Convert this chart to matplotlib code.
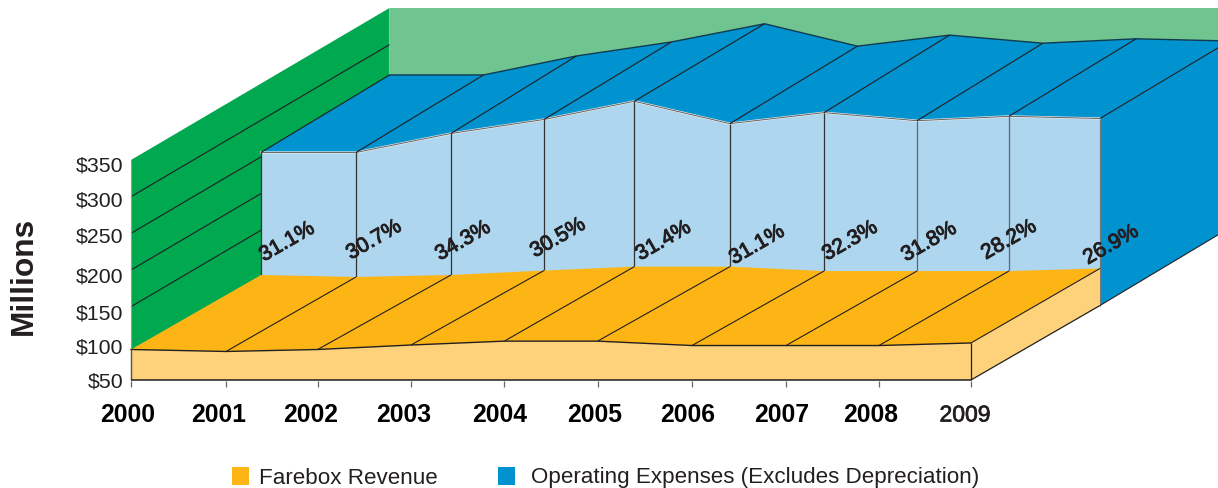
import matplotlib
matplotlib.use("Agg")
import matplotlib.pyplot as plt
import matplotlib.patheffects as pe
from matplotlib.patches import Polygon, Rectangle

plt.rcParams['font.family'] = ['Liberation Sans', 'DejaVu Sans']

years = ['2000', '2001', '2002', '2003', '2004', '2005', '2006', '2007', '2008', '2009']
farebox = [91.6, 88.9, 91.6, 97.7, 103, 103, 97, 97, 97, 100.5]
opex = [258.7, 258.7, 284.6, 303.7, 328.5, 298, 313, 302, 308, 305]
pct_labels = ['31.1%', '30.7%', '34.3%', '30.5%', '31.4%', '31.1%', '32.3%', '31.8%', '28.2%', '26.9%']
y_ticks = [50, 100, 150, 200, 250, 300, 350]

GREEN = '#00a84f'
PALE_GREEN = '#70c48f'
BLUE = '#0093d0'
PALE_BLUE = '#aed6ef'
ORANGE = '#fdb515'
PALE_ORANGE = '#fdd27a'
INK = '#231f20'

# oblique projection: front plane, step per year, px per dollar, depth layers
x0, y0 = 131, 381
xstep = 93.33
ppd = 220 / 300
depth_dx = [0, 130, 258.5]
depth_dy = [0, -74.5, -152]
# the original's columns are not quite evenly spaced
col_dx = [
    [0, 1.7, 0, 0, 0, 0, 1, 1.7, 1.3, 0, 0],
    [0, 1.7, 3.3, 3, 0, 2.3, 3, 2.7, 1.3, -1, 0],
    [0, 0.7, 0.3, 2, 1.7, 1.3, 0, 0, 0, 0, 0],
]


def proj(i, v, d):
    return (x0 + i * xstep + depth_dx[d] + col_dx[d][i], y0 - (v - 50) * ppd + depth_dy[d])


# small nudges for the hand-placed labels of the original
year_dx = [-3, -7, -7, -7, -5, -3, -4, -4, -8, -6]
tick_dy = [1, 4, 6, 6, 3, 3, 5]
pct_dx = [26, 18, 12, 14, 29, 27, 26, 12, 0, 11]
pct_dy = [2, 0, 1, -2, 1, 5, 1, 2, 0, 5]

fig = plt.figure(figsize=(12.18, 4.89), dpi=100)
ax = fig.add_axes([0, 0, 1, 1])
ax.set_xlim(0, 1218)
ax.set_ylim(489, 0)
ax.axis('off')

n = len(years)
last = n - 1


def poly(pts, fc, ec='none', lw=0.0, z=1):
    ax.add_patch(Polygon(pts, closed=True, facecolor=fc, edgecolor=ec, linewidth=lw, zorder=z))


def line(a, b, c=INK, lw=0.8, z=5):
    ax.plot([a[0], b[0]], [a[1], b[1]], color=c, lw=lw, zorder=z, solid_capstyle='butt')


# walls
poly([proj(0, 50, 0), proj(0, 350, 0), proj(0, 350, 2), proj(0, 50, 2)], GREEN, z=1)
poly([proj(0, 350, 2), proj(10, 350, 2), proj(10, 50, 2), proj(0, 50, 2)], PALE_GREEN, z=1)
for v in y_ticks[2:-1]:
    line(proj(0, v, 0), proj(0, v, 2), z=2)
line(proj(0, 50, 0), proj(0, 350, 0), c='#c8963c', lw=0.8, z=2)

# operating expenses ribbon
top_front = [proj(i, opex[i], 1) for i in range(n)]
top_back = [proj(i, opex[i], 2) for i in range(n)]
poly(top_front + top_back[::-1], BLUE, z=3)
poly(top_front + [proj(last, 50, 1), proj(0, 50, 1)], PALE_BLUE, z=3)
poly([top_front[-1], top_back[-1], proj(last, 50, 2), proj(last, 50, 1)], BLUE, z=3)
ax.plot(*zip(*top_back), color='#123a50', lw=1.0, zorder=4)
ax.plot(*zip(*top_front), color='#e8e8e8', lw=1.6, zorder=4)
ax.plot(*zip(*top_front), color='#555555', lw=0.6, zorder=4)
for i in range(n):
    line(top_front[i], top_back[i], z=5)
    if i < last:
        line(top_front[i], proj(i, 50, 1), lw=0.9, c='#333333' if i < 7 else '#666666', z=5)
line(top_front[-1], proj(last, 50, 1), c='#777777', lw=0.8, z=5)
line(proj(last, 50, 1), proj(last, 50, 2), z=5)

# farebox revenue ribbon
fare_front = [proj(i, farebox[i], 0) for i in range(n)]
fare_back = [proj(i, farebox[i], 1) for i in range(n)]
poly(fare_front + fare_back[::-1], ORANGE, z=6)
poly(fare_front + [proj(last, 50, 0), proj(0, 50, 0)], PALE_ORANGE, z=6)
poly([fare_front[-1], fare_back[-1], proj(last, 50, 1), proj(last, 50, 0)], PALE_ORANGE, z=6)
ax.plot(*zip(*fare_front), color=INK, lw=1.0, zorder=7)
for i in range(1, n):
    line(fare_front[i], fare_back[i], z=7)
line(fare_front[0], proj(0, 50, 0), c='#555555', lw=1.0, z=7)
line(proj(0, 50, 0), proj(last, 50, 0), lw=1.1, z=7)
line(fare_front[-1], proj(last, 50, 0), lw=0.9, z=7)
line(proj(last, 50, 0), proj(last, 50, 1), lw=0.9, z=7)

# x axis ticks and labels
for i, lab in enumerate(years):
    x, y = proj(i, 50, 0)
    line((x, y + 1), (x, y + 7), c='#666666', lw=0.9, z=7)
    if lab == '2009':
        ax.text(x + year_dx[i], 416, lab, ha='center', va='center', fontsize=16.5, color=INK, zorder=8,
                path_effects=[pe.withStroke(linewidth=0.5, foreground=INK)])
    else:
        ax.text(x + year_dx[i], 415, lab, ha='center', va='center', fontsize=17.8, fontweight='bold', color='black', zorder=8)

# y axis labels
for v, dy in zip(y_ticks, tick_dy):
    x, y = proj(0, v, 0)
    ax.text(x - 8, y + dy, '$%d' % v, ha='right', va='center', fontsize=15.3, color=INK, zorder=8)
ax.text(24, 276, 'Millions', rotation=90, ha='center', va='center', fontsize=22.8, fontweight='bold', color=INK)

# percentage labels
for i, lab in enumerate(pct_labels):
    x, _ = proj(i, 50, 1)
    ax.text(x + pct_dx[i], 241 + pct_dy[i], lab, rotation=30, ha='center', va='center', rotation_mode='anchor',
            fontsize=15.2, color=INK, zorder=9, path_effects=[pe.withStroke(linewidth=0.7, foreground=INK)])

# legend
ax.add_patch(Rectangle((232, 468), 17, 18, facecolor=ORANGE, edgecolor='none'))
ax.text(259, 478, 'Farebox Revenue', ha='left', va='center', fontsize=16.15, color=INK)
ax.add_patch(Rectangle((498, 468), 17, 18, facecolor=BLUE, edgecolor='none'))
ax.text(531, 478, 'Operating Expenses (Excludes Depreciation)', ha='left', va='center', fontsize=16.15, color=INK)

fig.savefig('out.png', dpi=100)
